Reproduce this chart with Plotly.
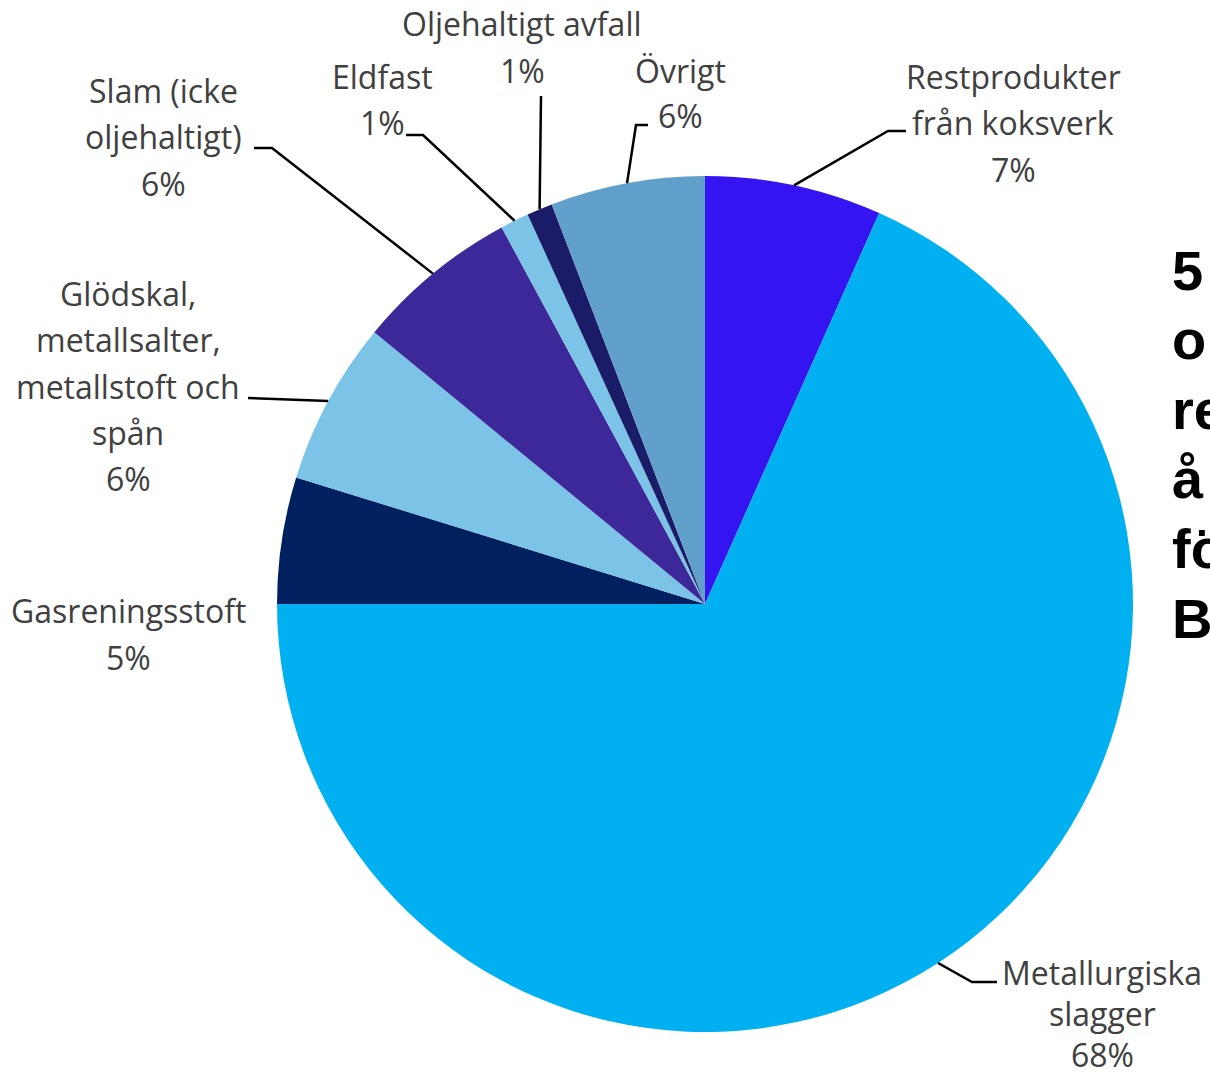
import math
import plotly.graph_objects as go

# ---- data ----
categories = [
    "Restprodukter från koksverk",
    "Metallurgiska slagger",
    "Gasreningsstoft",
    "Glödskal, metallsalter, metallstoft och spån",
    "Slam (icke oljehaltigt)",
    "Eldfast",
    "Oljehaltigt avfall",
    "Övrigt",
]
shares = [6.67, 68.33, 4.78, 6.17, 6.17, 1.08, 0.97, 5.83]
label_lines = [
    ["Restprodukter", "från koksverk"],
    ["Metallurgiska", "slagger"],
    ["Gasreningsstoft"],
    ["Glödskal,", "metallsalter,", "metallstoft och", "spån"],
    ["Slam (icke", "oljehaltigt)"],
    ["Eldfast"],
    ["Oljehaltigt avfall"],
    ["Övrigt"],
]
side_text_lines = ["5", "o", "re", "å", "fö", "B"]

# ---- styles / layout ----
colors = ["#3414F0", "#00B0F0", "#002060", "#7CC3E8", "#3C2898", "#7CC3E8", "#1A1C68", "#62A0CC"]
W, H = 1210, 1078
CX, CY, R = 705, 604, 428
LABEL_FONT = dict(family="Open Sans, Lato, sans-serif", size=32, color="#404040")
# label text centre (x, y of first line, line gap) in pixels
label_pos = [
    (1013, 76, 46.5), (1102, 972, 41), (128, 610, 47), (128, 293, 46.5),
    (163, 90, 46.5), (382, 76, 46.5), (522, 24, 47), (680, 70, 45),
]
# leader line elbow points (pixels) from label to the slice edge; None = no leader
leader_pts = [
    [(906, 131), (888, 131)],
    [(997, 982), (972, 982)],
    None,
    [(248, 398)],
    [(254, 148), (272, 148)],
    [(406, 135), (423, 135)],
    [(541, 96)],
    [(648, 125), (636, 125)],
]


def px(x):
    return x / W


def py(y):
    return 1 - y / H


fig = go.Figure(
    go.Pie(
        labels=categories,
        values=shares,
        sort=False,
        direction="clockwise",
        rotation=0,
        marker=dict(colors=colors, line=dict(width=0)),
        textinfo="none",
        hoverinfo="label+percent",
        domain=dict(x=[px(CX - R), px(CX + R)], y=[py(CY + R), py(CY - R)]),
        showlegend=False,
    )
)

annotations = []
shapes = []
total = sum(shares)
cum = 0.0
for i, v in enumerate(shares):
    pct = f"{round(v / total * 100)}%"
    lines = label_lines[i] + [pct]
    lx, ly, gap = label_pos[i]
    for k, t in enumerate(lines):
        annotations.append(dict(
            x=px(lx), y=py(ly + k * gap), xref="paper", yref="paper",
            text=t, showarrow=False, xanchor="center", yanchor="middle",
            font=LABEL_FONT, borderpad=0,
        ))
    mid = math.radians((cum + v / 2) / total * 360)
    ax_, ay_ = CX + R * math.sin(mid), CY - R * math.cos(mid)
    cum += v
    if leader_pts[i] is not None:
        pts = leader_pts[i] + [(ax_, ay_)]
        path = "M " + " L ".join(f"{px(x):.5f},{py(y):.5f}" for x, y in pts)
        shapes.append(dict(type="path", path=path, xref="paper", yref="paper",
                           line=dict(color="#000000", width=2.5)))

# bold side text (cut off by right edge as in the original)
for k, t in enumerate(side_text_lines):
    annotations.append(dict(
        x=px(1170), y=py(270 + k * 69.6), xref="paper", yref="paper",
        text=f"<b>{t}</b>", showarrow=False, xanchor="left", yanchor="middle",
        font=dict(family="Liberation Sans, Arial, sans-serif", size=56, color="#000000"),
    ))

fig.update_layout(
    width=W, height=H,
    margin=dict(l=0, r=0, t=0, b=0),
    paper_bgcolor="#FFFFFF", plot_bgcolor="#FFFFFF",
    annotations=annotations, shapes=shapes,
)
fig.write_html("out.html")
